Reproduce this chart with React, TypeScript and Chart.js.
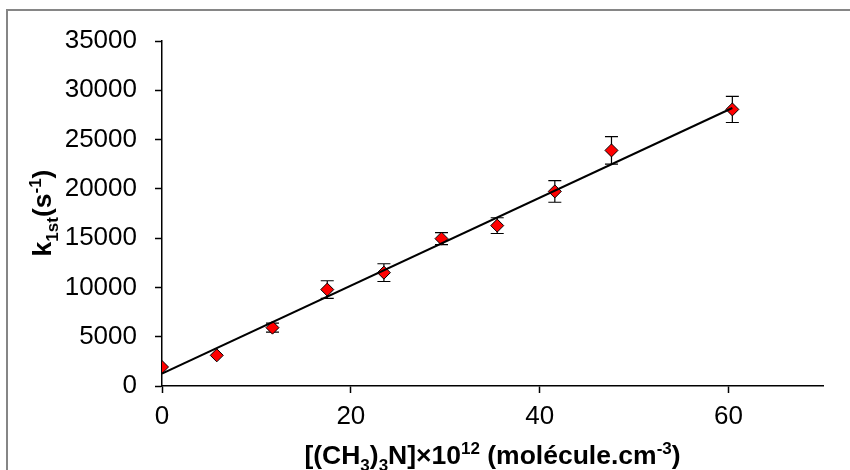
import React, { useEffect, useRef } from "react";
import { Chart, registerables } from "chart.js";

Chart.register(...registerables);

// ---- Data ----
const concentrations = [0, 5.8, 11.7, 17.5, 23.5, 29.6, 35.5, 41.6, 47.6, 60.4];
const k1stValues = [1930, 3110, 5920, 9780, 11500, 14950, 16270, 19740, 23900, 28060];
const k1stErrors = [0, 0, 460, 900, 900, 600, 800, 1100, 1400, 1330];
const fitLineX = [0, 60.4];
const fitLineY = [1260, 28200];
const xTickValues = [0, 20, 40, 60];
const yTickValues = [0, 5000, 10000, 15000, 20000, 25000, 30000, 35000];

type Seg = { t: string; k: "n" | "sub" | "sup" };
const xTitleSegs: Seg[] = [
  { t: "[(CH", k: "n" },
  { t: "3", k: "sub" },
  { t: ")", k: "n" },
  { t: "3", k: "sub" },
  { t: "N]×10", k: "n" },
  { t: "12", k: "sup" },
  { t: " (molécule.cm", k: "n" },
  { t: "-3", k: "sup" },
  { t: ")", k: "n" },
];
const yTitleSegs: Seg[] = [
  { t: "k", k: "n" },
  { t: "1st", k: "sub" },
  { t: "(s", k: "n" },
  { t: "-1", k: "sup" },
  { t: ")", k: "n" },
];

const FAMILY = '"Liberation Sans", Arial, Helvetica, sans-serif';

function drawRich(ctx: CanvasRenderingContext2D, segs: Seg[], cx: number, baseline: number, size: number) {
  const small = Math.round(size * 0.65);
  const fontFor = (k: string) => `bold ${k === "n" ? size : small}px ${FAMILY}`;
  let total = 0;
  const widths = segs.map((s) => {
    ctx.font = fontFor(s.k);
    const w = ctx.measureText(s.t).width;
    total += w;
    return w;
  });
  let x = cx - total / 2;
  ctx.textBaseline = "alphabetic";
  ctx.textAlign = "left";
  ctx.fillStyle = "#000";
  segs.forEach((s, i) => {
    ctx.font = fontFor(s.k);
    const dy = s.k === "sub" ? size * 0.28 : s.k === "sup" ? -size * 0.36 : 0;
    ctx.fillText(s.t, x, baseline + dy);
    x += widths[i];
  });
}

const titlesPlugin = {
  id: "richTitles",
  afterDraw(chart: any) {
    const ctx = chart.ctx as CanvasRenderingContext2D;
    const area = chart.chartArea;
    ctx.save();
    drawRich(ctx, xTitleSegs, (area.left + area.right) / 2, 464, 26.5);
    ctx.restore();
    ctx.save();
    ctx.translate(51, 213);
    ctx.rotate(-Math.PI / 2);
    drawRich(ctx, yTitleSegs, 0, 0, 26.5);
    ctx.restore();
  },
};

const errorBarsPlugin = {
  id: "errorBars",
  beforeDatasetsDraw(chart: any) {
    const ctx = chart.ctx as CanvasRenderingContext2D;
    const xs = chart.scales.x;
    const ys = chart.scales.y;
    ctx.save();
    ctx.strokeStyle = "#000";
    ctx.lineWidth = 1.2;
    const cap = 6.5;
    concentrations.forEach((c, i) => {
      if (!k1stErrors[i]) return;
      const px = xs.getPixelForValue(c);
      const top = ys.getPixelForValue(k1stValues[i] + k1stErrors[i]);
      const bot = ys.getPixelForValue(k1stValues[i] - k1stErrors[i]);
      ctx.beginPath();
      ctx.moveTo(px, top);
      ctx.lineTo(px, bot);
      ctx.moveTo(px - cap, top);
      ctx.lineTo(px + cap, top);
      ctx.moveTo(px - cap, bot);
      ctx.lineTo(px + cap, bot);
      ctx.stroke();
    });
    ctx.restore();
  },
};

export default function App() {
  const ref = useRef<HTMLCanvasElement | null>(null);
  useEffect(() => {
    if (!ref.current) return;
    const tickFont = { family: FAMILY, size: 26 };
    const chart = new Chart(ref.current, {
      type: "scatter",
      data: {
        datasets: [
          {
            label: "fit",
            type: "line",
            data: fitLineX.map((x, i) => ({ x, y: fitLineY[i] })),
            borderColor: "#000",
            borderWidth: 2,
            pointRadius: 0,
            fill: false,
          } as any,
          {
            label: "k1st",
            data: concentrations.map((x, i) => ({ x, y: k1stValues[i] })),
            pointStyle: "rectRot",
            pointRadius: 6.5,
            pointHoverRadius: 6.5,
            backgroundColor: "#ff0000",
            borderColor: "#000",
            borderWidth: 1,
          },
        ],
      },
      options: {
        responsive: false,
        animation: false,
        events: [],
        layout: { padding: { left: 0, top: 41, right: 27, bottom: 0 } },
        plugins: { legend: { display: false }, tooltip: { enabled: false }, title: { display: false } },
        scales: {
          x: {
            type: "linear",
            min: 0,
            max: 70,
            afterBuildTicks: (s: any) => {
              s.ticks = xTickValues.map((v) => ({ value: v }));
            },
            afterFit: (s: any) => {
              s.height = 84;
            },
            grid: { drawOnChartArea: false, drawTicks: true, tickLength: 7, tickColor: "#000", tickWidth: 1.5, color: "#000" },
            border: { display: true, color: "#000", width: 1.5 },
            ticks: { font: tickFont, color: "#000", padding: 8, maxRotation: 0, autoSkip: false },
          },
          y: {
            type: "linear",
            min: 0,
            max: 35000,
            afterBuildTicks: (s: any) => {
              s.ticks = yTickValues.map((v) => ({ value: v }));
            },
            afterFit: (s: any) => {
              s.width = 162;
            },
            grid: { drawOnChartArea: false, drawTicks: true, tickLength: 7, tickColor: "#000", tickWidth: 1.5, color: "#000" },
            border: { display: true, color: "#000", width: 1.5 },
            ticks: { font: tickFont, color: "#000", padding: 18, autoSkip: false, callback: (v: any) => String(v) },
          },
        },
      },
      plugins: [errorBarsPlugin, titlesPlugin],
    });
    return () => chart.destroy();
  }, []);
  return (
    <div style={{ position: "fixed", left: 0, top: 0, width: 850, height: 470, background: "#fff", overflow: "hidden" }}>
      <div
        style={{
          position: "absolute",
          left: 6,
          top: 9,
          width: 900,
          height: 520,
          border: "2px solid #868686",
          boxSizing: "border-box",
        }}
      />
      <canvas ref={ref} width={850} height={470} style={{ position: "absolute", left: 0, top: 0, width: 850, height: 470 }} />
    </div>
  );
}
